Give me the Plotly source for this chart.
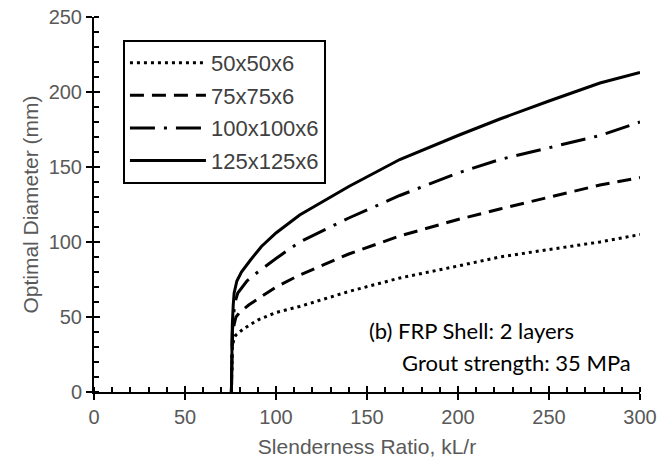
import plotly.graph_objects as go

# Data
series_names = ["50x50x6", "75x75x6", "100x100x6", "125x125x6"]

x_50 = [75.5, 75.7, 76, 77, 78, 82, 90, 100, 113, 140, 168, 200, 223, 250, 278, 300]
y_50 = [0, 15, 30, 36, 38, 42, 48, 53, 57, 67, 76, 84, 90, 95, 100, 105]

x_75 = [75.5, 75.7, 76, 77, 78, 80, 85, 90, 100, 113, 140, 168, 200, 223, 250, 278, 300]
y_75 = [0, 15, 35, 45, 50, 53, 58, 62, 70, 78, 92, 104, 115, 122, 130, 138, 143]

x_100 = [75.5, 75.7, 76, 77, 78, 79, 84, 90, 100, 113, 140, 168, 200, 223, 250, 278, 300]
y_100 = [0, 20, 40, 55, 62, 66, 74, 80, 89, 100, 116, 131, 146, 155, 163, 171, 180]

x_125 = [75.5, 75.7, 76, 76.5, 77, 78.5, 81, 86, 92, 100, 113, 140, 168, 200, 223, 250, 278, 300]
y_125 = [0, 20, 45, 58, 66, 74, 80, 88, 97, 106, 118, 137, 155, 171, 182, 194, 206, 213]

x_ticks = [0, 50, 100, 150, 200, 250, 300]
y_ticks = [0, 50, 100, 150, 200, 250]

dashes = ["3px,4px", "14px,8px", "25px,9px,3px,9px", "solid"]
xs = [x_50, x_75, x_100, x_125]
ys = [y_50, y_75, y_100, y_125]

fig = go.Figure()
for name, xv, yv, d in zip(series_names, xs, ys, dashes):
    fig.add_trace(go.Scatter(
        x=xv, y=yv, name=name, mode="lines",
        line=dict(color="black", width=3, dash=d),
        legendgroup=name,
    ))

tick_font = dict(family="Liberation Sans", size=20, color="#595959")
title_font = dict(family="Liberation Sans", size=21, color="#595959")

fig.update_layout(
    width=661, height=469,
    margin=dict(l=94, r=21, t=17, b=77, autoexpand=False),
    paper_bgcolor="white", plot_bgcolor="white",
    showlegend=True,
    legend=dict(
        x=0.053, y=0.939, xanchor="left", yanchor="top",
        bgcolor="white", bordercolor="black", borderwidth=2,
        font=dict(family="Liberation Sans", size=22, color="#404040"),
        tracegroupgap=1, itemwidth=76,
    ),
    xaxis=dict(
        range=[0, 300], tickvals=x_ticks, showgrid=False, zeroline=False,
        showline=True, linecolor="black", linewidth=2, automargin=False,
        ticks="outside", ticklen=6, tickwidth=2, tickcolor="black",
        minor=dict(dtick=10, ticks="inside", ticklen=5, tickwidth=2, tickcolor="black"),
        tickfont=tick_font,
        title=dict(text="Slenderness Ratio, kL/r", font=title_font, standoff=12),
    ),
    yaxis=dict(
        range=[0, 250], tickvals=y_ticks, showgrid=False, zeroline=False,
        showline=True, linecolor="black", linewidth=2, automargin=False,
        ticks="outside", ticklen=6, tickwidth=2, tickcolor="black",
        minor=dict(dtick=10, ticks="inside", ticklen=5, tickwidth=2, tickcolor="black"),
        tickfont=tick_font,
        title=dict(text="Optimal Diameter (mm)", font=title_font, standoff=4),
    ),
    xaxis2=dict(
        overlaying="x", matches="x", range=[0, 300], tickvals=x_ticks,
        showticklabels=False, showgrid=False, zeroline=False, showline=False,
        ticks="inside", ticklen=6, tickwidth=2, tickcolor="black", anchor="y", side="bottom",
        automargin=False,
    ),
    yaxis2=dict(
        overlaying="y", matches="y", range=[0, 250], tickvals=y_ticks,
        showticklabels=False, showgrid=False, zeroline=False, showline=False,
        ticks="inside", ticklen=6, tickwidth=2, tickcolor="black", anchor="x", side="left",
        automargin=False,
    ),
)

# invisible trace to instantiate the overlay axes
fig.add_trace(go.Scatter(x=[None], y=[None], xaxis="x2", yaxis="y2",
                         showlegend=False, hoverinfo="skip"))

note_font = dict(family="Lato", size=22, color="black")
fig.add_annotation(x=0.50, y=0.163, xref="paper", yref="paper", xanchor="left", yanchor="middle",
                   text="(b) FRP Shell: 2 layers", showarrow=False, font=note_font)
fig.add_annotation(x=0.560, y=0.08, xref="paper", yref="paper", xanchor="left", yanchor="middle",
                   text="Grout strength: 35 MPa", showarrow=False, font=note_font)

fig.write_html("out.html", config={"displayModeBar": False},
               post_script="document.body.style.margin='0';")
